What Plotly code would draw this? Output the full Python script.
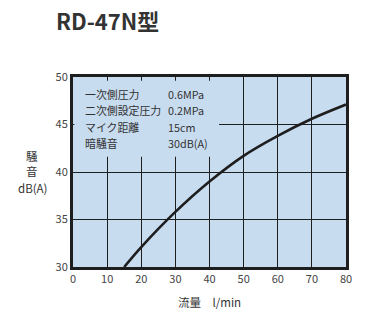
import plotly.graph_objects as go

flow = [15, 20, 30, 40, 50, 60, 70, 80]
noise = [30, 32.1, 35.8, 39.0, 41.7, 43.8, 45.6, 47.1]
x_ticks = [0, 10, 20, 30, 40, 50, 60, 70, 80]
y_ticks = [30, 35, 40, 45, 50]
info_labels = ["一次側圧力", "二次側設定圧力", "マイク距離", "暗騒音"]
info_values = ["0.6MPa", "0.2MPa", "15cm", "30dB(A)"]
info_rows = [48.25, 46.5, 44.75, 43.1]

FONT = "Noto Sans CJK JP"
BG = "#c8dcf0"
W, H = 365, 312
ml, mr, mt, mb = 73, 19, 77, 45
pw, ph = W - ml - mr, H - mt - mb


def px2paper(px, py):
    return (px - ml) / pw, (H - mb - py) / ph


fig = go.Figure()
fig.add_trace(go.Scatter(x=flow, y=noise, mode="lines",
                         line=dict(color="#1e1e1e", width=2.6, shape="spline"),
                         showlegend=False, hoverinfo="skip"))

# box masking grid behind the info text
fig.add_shape(type="rect", xref="x", yref="y", x0=0.4, x1=42.8, y0=41.6, y1=49.6,
              fillcolor=BG, line=dict(width=0), layer="between")

for lab, val, yy in zip(info_labels, info_values, info_rows):
    fig.add_annotation(x=3.0, y=yy, xref="x", yref="y", text=lab, showarrow=False,
                       xanchor="left", yanchor="middle",
                       font=dict(family=FONT, size=10.9, color="#333"))
    fig.add_annotation(x=27.2, y=yy, xref="x", yref="y", text=val, showarrow=False,
                       xanchor="left", yanchor="middle",
                       font=dict(family=FONT, size=10.8, color="#333"))


def pix_text(text, px, py, size, xanchor="center"):
    x, y = px2paper(px, py)
    fig.add_annotation(text=text, x=x, y=y, xref="paper", yref="paper", showarrow=False,
                       xanchor=xanchor, yanchor="middle",
                       font=dict(family=FONT, size=size, color="#333"))


pix_text("騒<br>音", 32, 163.5, 11.5)
pix_text("dB(A)", 32, 188, 11.5)
pix_text("流量　l/min", 209, 302, 11.5)
pix_text("<b>RD-47N型</b>", 54, 20, 22, xanchor="left")

fig.update_layout(
    width=W, height=H, margin=dict(l=ml, r=mr, t=mt, b=mb, autoexpand=False),
    paper_bgcolor="white", plot_bgcolor=BG,
    font=dict(family=FONT, size=11, color="#444"),
)
fig.update_xaxes(range=[0, 80], tickvals=x_ticks, showgrid=True, gridcolor="#1e1e1e",
                 gridwidth=1.4, zeroline=False, showline=True, linecolor="#1e1e1e",
                 linewidth=3, mirror=True, ticks="", ticklen=0, automargin=False,
                 tickfont=dict(size=11, color="#444"))
fig.update_yaxes(range=[30, 50], tickvals=y_ticks, showgrid=True, gridcolor="#1e1e1e",
                 gridwidth=1.4, zeroline=False, showline=True, linecolor="#1e1e1e",
                 linewidth=3, mirror=True, ticks="", ticklen=0, automargin=False,
                 tickfont=dict(size=11, color="#444"))

fig.write_html("out.html", config={"displayModeBar": False},
               post_script="document.body.style.margin='0';")
